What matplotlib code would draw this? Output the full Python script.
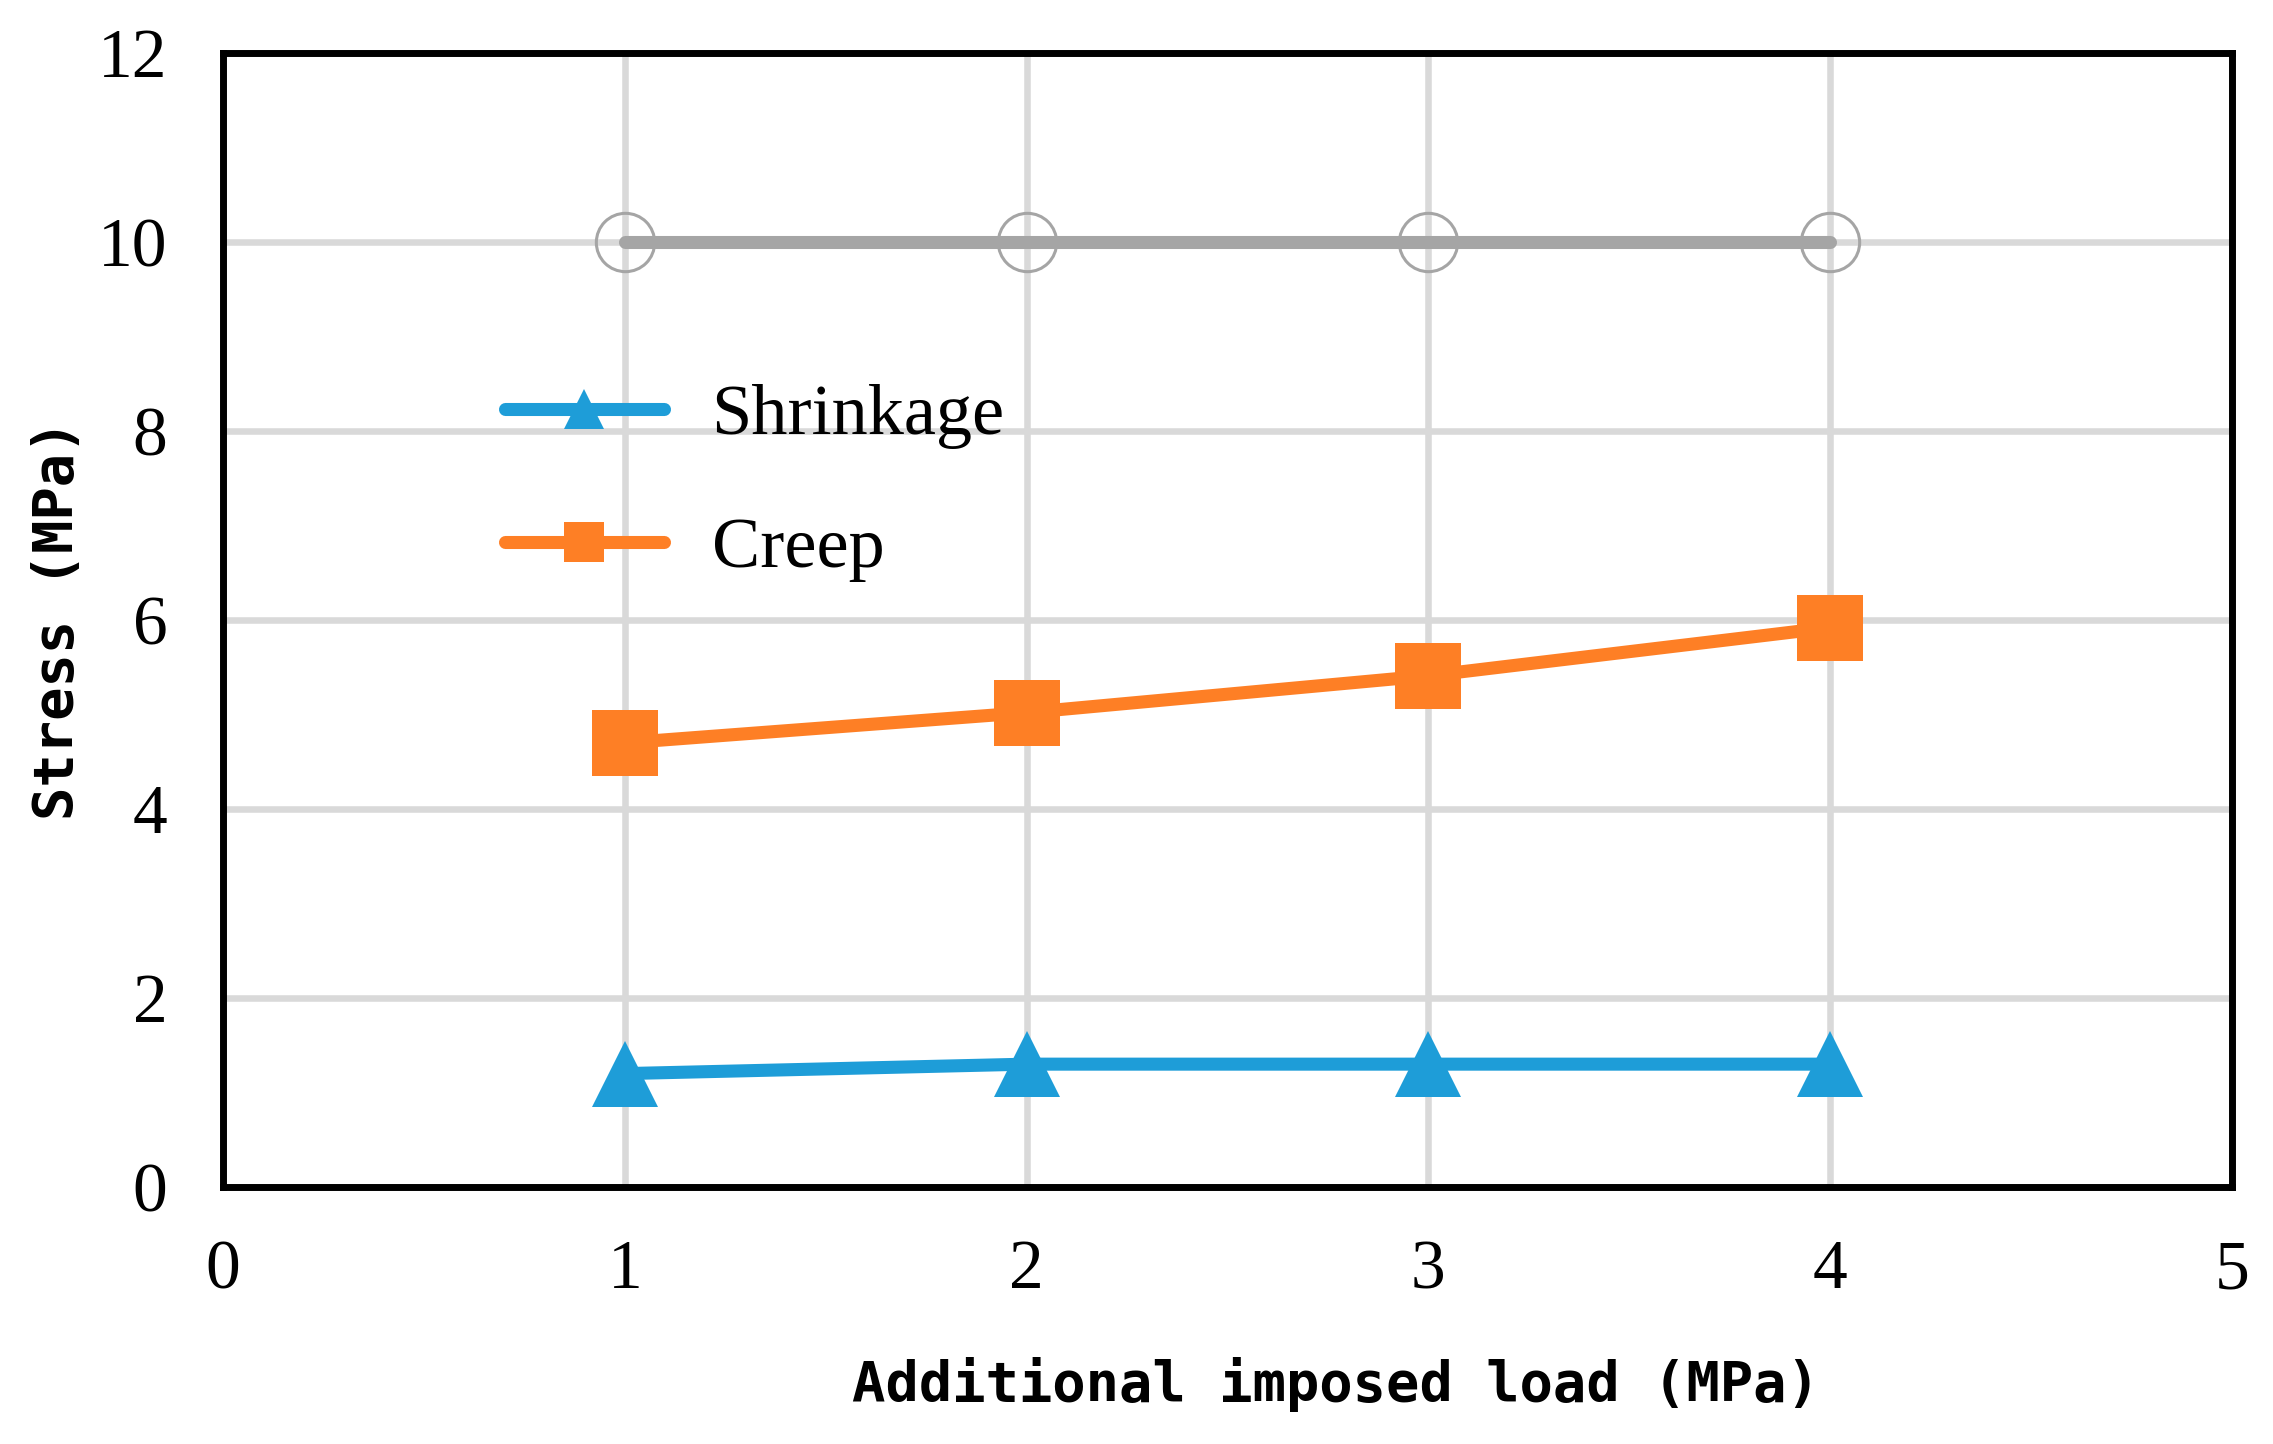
import matplotlib
matplotlib.use("Agg")
import matplotlib.pyplot as plt

# Data
load = [1, 2, 3, 4]
shrinkage = [1.2, 1.3, 1.3, 1.3]
creep = [4.7, 5.02, 5.41, 5.92]
reference = [10, 10, 10, 10]
xticks = [0, 1, 2, 3, 4, 5]
yticks = [0, 2, 4, 6, 8, 10, 12]

BLUE = "#1E9DD8"
ORANGE = "#FE7F25"
GRAY = "#A5A5A5"
GRID = "#D9D9D9"

fig = plt.figure(figsize=(22.73, 14.44), dpi=100)
W, H = 2273, 1444
left, right, top, bottom = 223, 2232, 53, 1187
ax = fig.add_axes([left / W, 1 - bottom / H, (right - left) / W, (bottom - top) / H])

lw = 9.4
ax.plot(load, reference, color=GRAY, lw=lw, solid_capstyle="round", marker="o",
        ms=42, mfc="none", mec=GRAY, mew=2.2, zorder=3)
ax.plot(load, creep, color=ORANGE, lw=lw, solid_capstyle="round", marker="s",
        ms=47, mfc=ORANGE, mec=ORANGE, mew=0, label="Creep", zorder=4)
ax.plot(load, shrinkage, color=BLUE, lw=lw, solid_capstyle="round", marker="^",
        ms=48, mfc=BLUE, mec=BLUE, mew=0, label="Shrinkage", zorder=4)

ax.set_xlim(0, 5)
ax.set_ylim(0, 12)
ax.set_xticks(xticks)
ax.set_yticks(yticks)
ax.grid(True, color=GRID, lw=4.7, zorder=0)
ax.set_axisbelow(True)
for s in ax.spines.values():
    s.set_linewidth(5)
    s.set_color("black")
ax.tick_params(length=0)
ax.tick_params(axis="y", pad=40)
ax.tick_params(axis="x", pad=38)
for lab in ax.get_xticklabels() + ax.get_yticklabels():
    lab.set_fontfamily("Liberation Serif")
    lab.set_fontsize(50)

ax.set_ylabel("Stress (MPa)", fontfamily="DejaVu Sans Mono", fontweight="bold",
              fontsize=40, va="center")
ax.yaxis.set_label_coords((58 - left) / (right - left), 0.5)
fig.text(1336 / W, 1 - 1384 / H, "Additional imposed load (MPa)",
         fontfamily="DejaVu Sans Mono", fontweight="bold", fontsize=40,
         ha="center", va="center")

handles, labels = ax.get_legend_handles_labels()
order = [1, 0]
leg = ax.legend([handles[i] for i in order], [labels[i] for i in order],
                loc="center left",
                bbox_to_anchor=((505 - left) / (right - left), (bottom - 483) / (bottom - top)),
                frameon=False, borderpad=0, borderaxespad=0, handlelength=2.2,
                handletextpad=0.66, labelspacing=0.93, markerscale=0.6,
                prop={"family": "Liberation Serif", "size": 52})

fig.savefig("out.png", dpi=100, facecolor="white")
